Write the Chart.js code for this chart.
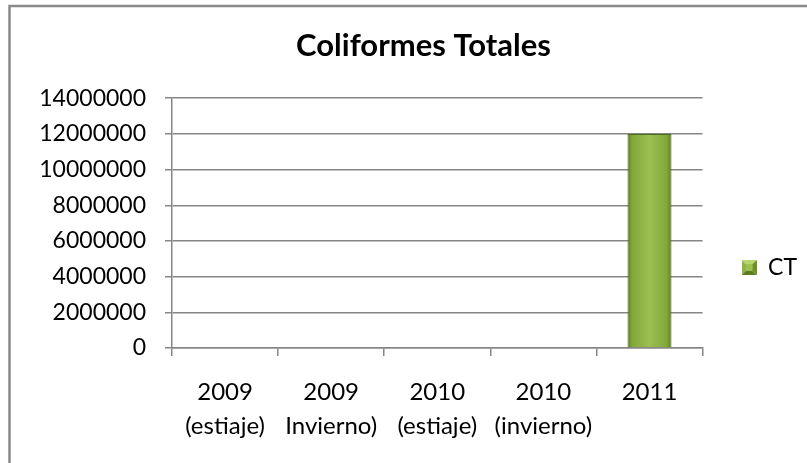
<!DOCTYPE html>
<html>
<head>
<meta charset="utf-8">
<script src="https://cdn.jsdelivr.net/npm/chart.js@4/dist/chart.umd.min.js"></script>
<style>
  html, body { margin: 0; padding: 0; background: #fff; }
  #wrap { width: 807px; height: 463px; }
</style>
</head>
<body>
<div id="wrap"><canvas id="c" width="807" height="463"></canvas></div>
<script>
const categories = [
  ['2009', '(estiaje)'],
  ['2009', 'Invierno)'],
  ['2010', '(estiaje)'],
  ['2010', '(invierno)'],
  ['2011']
];
const ctValues = [0, 0, 0, 0, 12000000];
const seriesName = 'CT';
const chartTitle = 'Coliformes Totales';
const yMin = 0, yMax = 14000000, yStep = 2000000;

const FONT = 'Lato, Carlito, Calibri, sans-serif';
const GRID = '#868686';

const framePlugin = {
  id: 'frame',
  beforeDraw(chart) {
    const c = chart.ctx;
    c.save();
    c.fillStyle = '#fff';
    c.fillRect(0, 0, chart.width, chart.height);
    c.strokeStyle = '#8a8a8a';
    c.lineWidth = 2.5;
    c.beginPath();
    c.moveTo(9.5, chart.height);
    c.lineTo(9.5, 6);
    c.lineTo(chart.width, 6);
    c.stroke();
    c.restore();
  }
};

// small bevelled swatch for the legend
function makeSwatch() {
  const s = 15, cv = document.createElement('canvas');
  cv.width = s; cv.height = s;
  const g = cv.getContext('2d');
  const tri = (pts, col) => {
    g.fillStyle = col; g.beginPath();
    g.moveTo(pts[0], pts[1]);
    for (let i = 2; i < pts.length; i += 2) g.lineTo(pts[i], pts[i + 1]);
    g.closePath(); g.fill();
  };
  const m = s / 2, i1 = 4, i2 = s - 4;
  tri([0, 0, s, 0, m, m], '#b8d66e');
  tri([0, 0, 0, s, m, m], '#8fb443');
  tri([s, 0, s, s, m, m], '#6f9228');
  tri([0, s, s, s, m, m], '#5d7e1e');
  g.fillStyle = '#9cc150';
  g.fillRect(i1, i1, i2 - i1, i2 - i1);
  return cv;
}
const swatch = makeSwatch();

function barFill(ctx) {
  const chart = ctx.chart;
  const xs = chart.scales.x;
  if (!xs || !chart.chartArea) return '#8db040';
  const cx = xs.getPixelForValue(ctx.dataIndex);
  const half = (xs.width / categories.length) * 0.415 / 2;
  const g = chart.ctx.createLinearGradient(cx - half, 0, cx + half, 0);
  g.addColorStop(0, '#5a7820');
  g.addColorStop(0.1, '#82a638');
  g.addColorStop(0.5, '#9cc150');
  g.addColorStop(0.9, '#82a638');
  g.addColorStop(1, '#5a7820');
  return g;
}

new Chart(document.getElementById('c'), {
  type: 'bar',
  data: {
    labels: categories,
    datasets: [{
      label: seriesName,
      data: ctValues,
      backgroundColor: barFill,
      borderColor: '#4e6b1c',
      borderWidth: 1,
      categoryPercentage: 1,
      barPercentage: 0.415
    }]
  },
  options: {
    responsive: false,
    animation: false,
    devicePixelRatio: 1,
    layout: { padding: { left: 40, right: 0, top: 0, bottom: 0 } },
    plugins: {
      title: {
        display: true,
        text: chartTitle,
        color: '#000',
        font: { family: FONT, size: 31, weight: 'bold', lineHeight: 1.2 },
        padding: { top: 27, bottom: 34 }
      },
      legend: {
        position: 'right',
        title: {
          display: true,
          text: ' ',
          font: { family: FONT, size: 10, lineHeight: 1.2 },
          padding: { top: 30, bottom: 30 }
        },
        labels: {
          color: '#000',
          font: { family: FONT, size: 23 },
          boxWidth: 15,
          boxHeight: 15,
          padding: 39,
          usePointStyle: true,
          generateLabels(chart) {
            return [{
              text: seriesName,
              fillStyle: '#8db040',
              strokeStyle: '#4e6b1c',
              lineWidth: 0,
              pointStyle: swatch,
              datasetIndex: 0,
              fontColor: '#000'
            }];
          }
        }
      },
      tooltip: { enabled: false }
    },
    scales: {
      x: {
        grid: {
          offset: true,
          drawOnChartArea: false,
          drawTicks: true,
          tickLength: 8,
          color: GRID,
          lineWidth: 1.5
        },
        border: { display: true, color: GRID, width: 1.5 },
        ticks: {
          color: '#000',
          font: { family: FONT, size: 24, lineHeight: 1.42 },
          padding: 19,
          maxRotation: 0,
          autoSkip: false
        },
        afterFit(s) { s.height = 115; }
      },
      y: {
        min: yMin,
        max: yMax,
        grid: { color: GRID, lineWidth: 1.5, tickLength: 7, drawTicks: true },
        border: { display: true, color: GRID, width: 1.5 },
        ticks: {
          stepSize: yStep,
          color: '#000',
          font: { family: FONT, size: 23 },
          padding: 19,
          callback: v => String(v)
        },
        afterFit(s) { s.width = 132; }
      }
    }
  },
  plugins: [framePlugin]
});
</script>
</body>
</html>
